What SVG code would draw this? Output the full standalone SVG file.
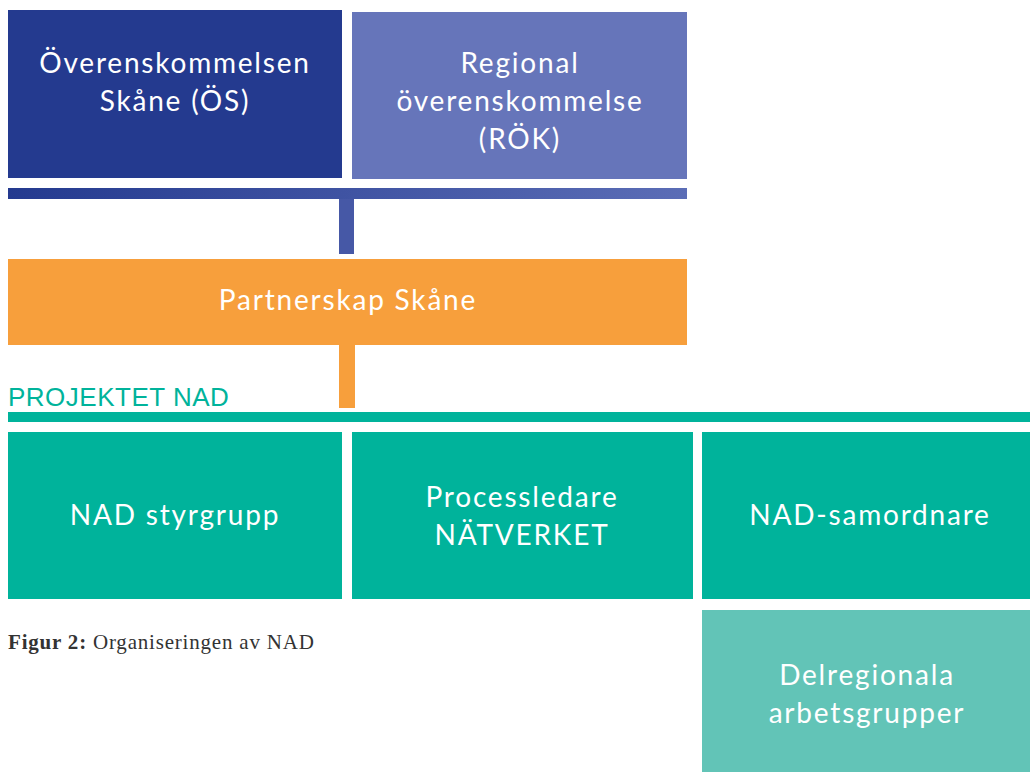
<svg xmlns="http://www.w3.org/2000/svg" width="1030" height="772" viewBox="0 0 1030 772">
<style>
.t{font-family:Lato,"Noto Sans",sans-serif;font-size:28px;fill:#fff;text-anchor:middle;letter-spacing:1.8px}
.cap{font-family:"Liberation Serif",serif;font-size:21px;fill:#333;letter-spacing:0.8px}
</style>
<defs>
<linearGradient id="g" x1="0" x2="1" y1="0" y2="0">
<stop offset="0" stop-color="#243a8f"/>
<stop offset="1" stop-color="#5b6db6"/>
</linearGradient>
</defs>
<rect width="1030" height="772" fill="#fff"/>
<g id="connectors">
<rect x="8" y="188" width="679" height="11" fill="url(#g)"/>
<rect x="339" y="199" width="15" height="55" fill="#4658a6"/>
<rect x="339" y="345" width="16" height="63" fill="#f79f3c"/>
<rect x="8" y="412" width="1022" height="10" fill="#00b39b"/>
</g>
<g id="os">
<rect x="8" y="10" width="334" height="168" fill="#243a8f"/>
<text class="t" x="175" y="73">Överenskommelsen</text>
<text class="t" x="175" y="111">Skåne (ÖS)</text>
</g>
<g id="rok">
<rect x="352" y="12" width="335" height="167" fill="#6675ba"/>
<text class="t" x="520" y="73">Regional</text>
<text class="t" x="520" y="111">överenskommelse</text>
<text class="t" x="520" y="149">(RÖK)</text>
</g>
<g id="partnerskap">
<rect x="8" y="259" width="679" height="86" fill="#f79f3c"/>
<text class="t" x="348" y="310">Partnerskap Skåne</text>
</g>
<g id="projektet">
<text x="8" y="406" style="font-family:'Liberation Sans',sans-serif;font-size:26px;fill:#00b39b;letter-spacing:0.5px">PROJEKTET NAD</text>
</g>
<g id="styrgrupp">
<rect x="8" y="432" width="334" height="167" fill="#00b39b"/>
<text class="t" x="175" y="525">NAD styrgrupp</text>
</g>
<g id="processledare">
<rect x="352" y="432" width="341" height="167" fill="#00b39b"/>
<text class="t" x="522" y="507">Processledare</text>
<text class="t" x="522" y="545">NÄTVERKET</text>
</g>
<g id="samordnare">
<rect x="702" y="432" width="328" height="167" fill="#00b39b"/>
<text class="t" x="870" y="525">NAD-samordnare</text>
</g>
<g id="delregionala">
<rect x="702" y="610" width="328" height="162" fill="#62c4b7"/>
<text class="t" x="867" y="685">Delregionala</text>
<text class="t" x="867" y="723">arbetsgrupper</text>
</g>
<g id="caption">
<text class="cap" x="8" y="649"><tspan font-weight="bold">Figur 2:</tspan> Organiseringen av NAD</text>
</g>
</svg>
